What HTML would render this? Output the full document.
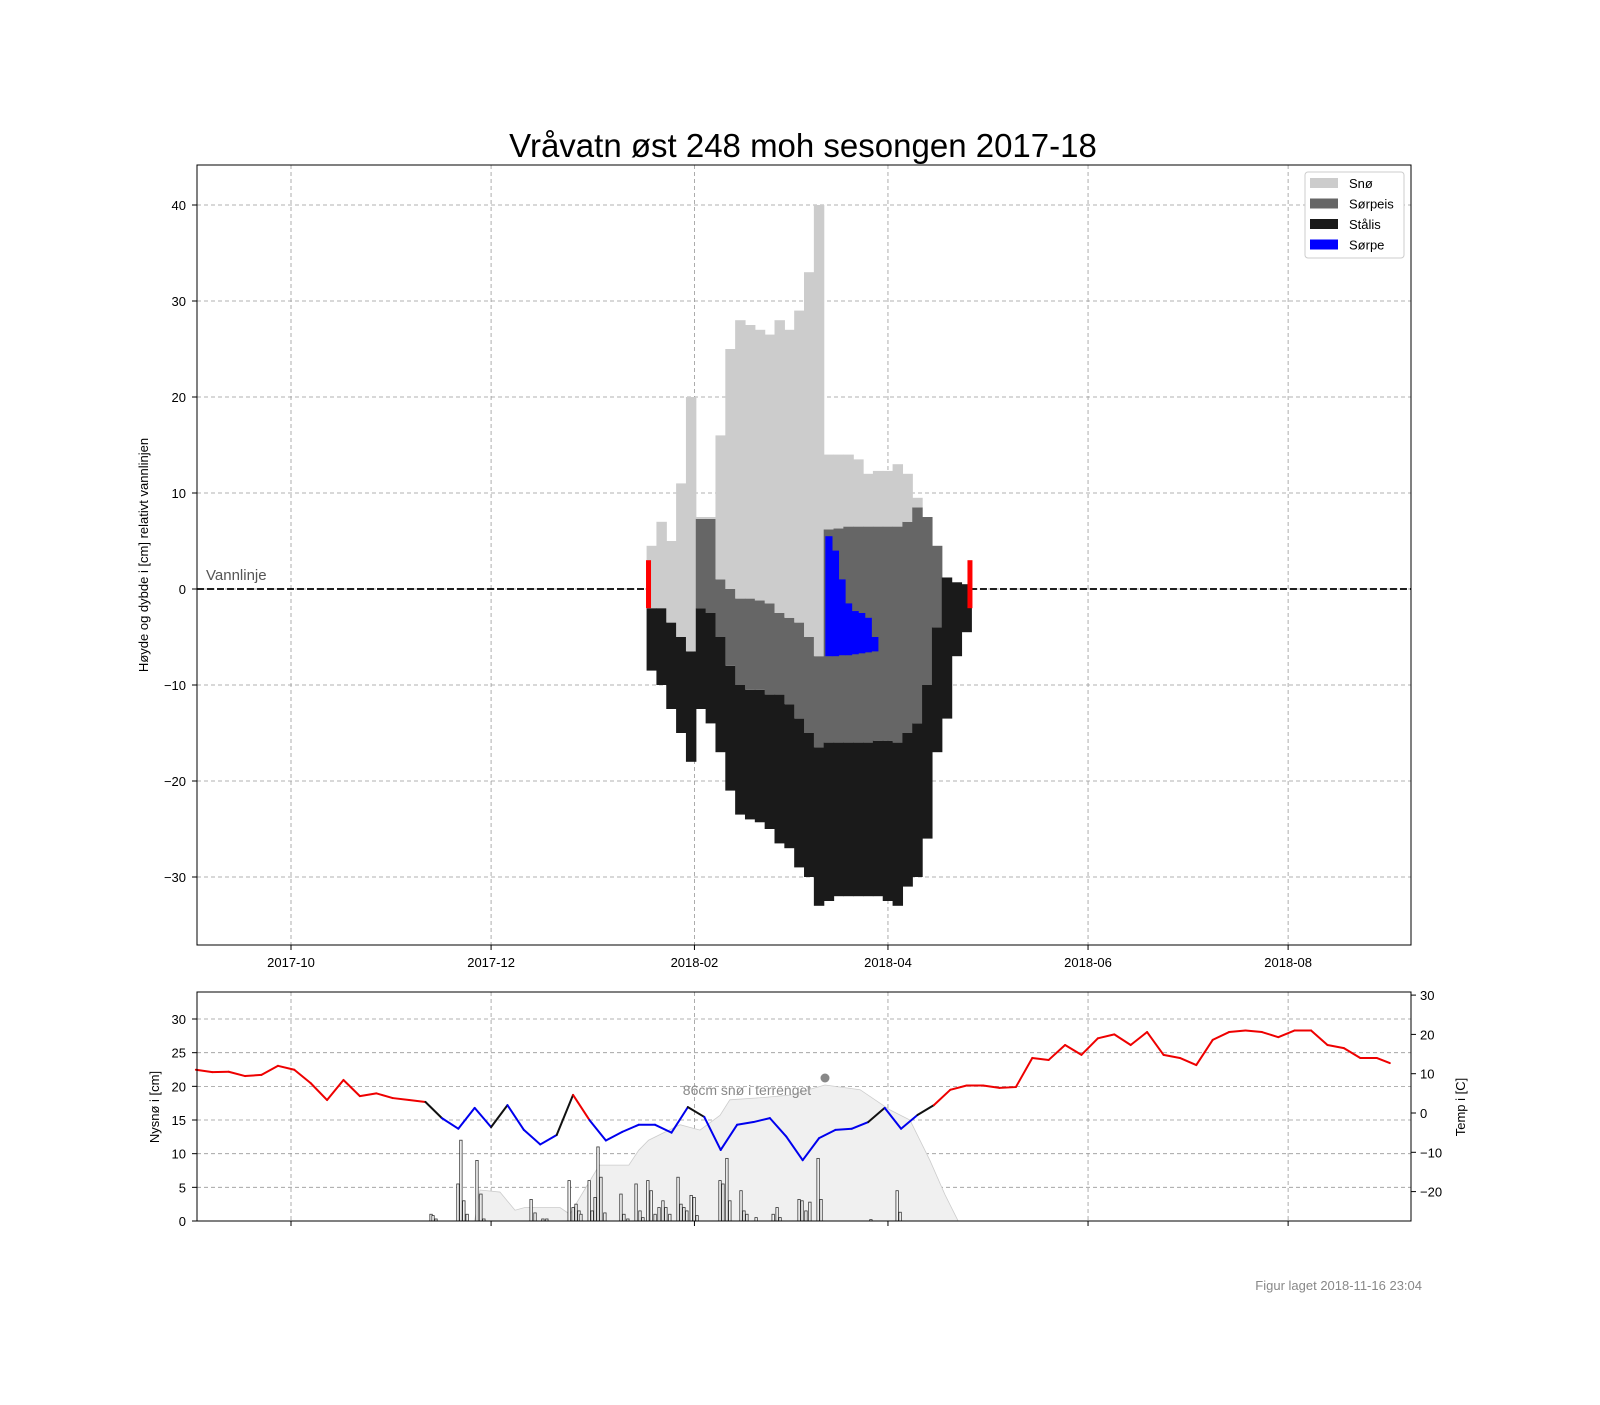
<!DOCTYPE html>
<html><head><meta charset="utf-8"><style>
body{margin:0;background:#fff}
text{font-family:"Liberation Sans","DejaVu Sans",sans-serif}
</style></head><body>
<svg id="c" width="1600" height="1400" xmlns="http://www.w3.org/2000/svg">
<rect width="1600" height="1400" fill="#fff"/>
<text x="803" y="157" font-size="33" text-anchor="middle">Vråvatn øst 248 moh sesongen 2017-18</text>
<g id="topg"></g>
<g id="botg"></g>
<text x="1422" y="1290" font-size="13" fill="#888" text-anchor="end">Figur laget 2018-11-16 23:04</text>
</svg>
<script>
// ---- data (days counted from 2017-10-01) ----
const iceDays   = [110,113,116,119,122,125,128,131,134,137,140,143,146,149,152,155,158,161,164,167,170,173,176,179,182,185,188,191,194,197,200,203,206];
const snowTop   = [4.5,7,5,11,20,7.5,7.5,16,25,28,27.5,27,26.5,28,27,29,33,40,14,14,14,13.5,12,12.3,12.3,13,12,9.5,7.5,4.5,1.2,0.7,0.5];
const sorpTop   = [-2,-2,-3.5,-5,-6.5,7.3,7.3,1,0,-1,-1,-1.2,-1.5,-2.5,-3,-3.5,-5,-7,6.2,6.3,6.5,6.5,6.5,6.5,6.5,6.5,7,8.5,7.5,4.5,1.2,0.7,0.5];
const sorpBot   = [-2,-2,-3.5,-5,-6.5,-2,-2.5,-5,-8,-10,-10.5,-10.5,-11,-11,-12,-13.5,-15,-16.5,-16,-16,-16,-16,-16,-15.8,-15.8,-16,-15,-14,-10,-4,1.2,0.7,0.5];
const iceBot    = [-8.5,-10,-12.5,-15,-18,-12.5,-14,-17,-21,-23.5,-24,-24.3,-25,-26.5,-27,-29,-30,-33,-32.5,-32,-32,-32,-32,-32,-32.5,-33,-31,-30,-26,-17,-13.5,-7,-4.5];
const slushDays = [164,166,168,170,172,174,176,178];
const slushTop  = [5.5,4,1,-1.5,-2.3,-2.5,-3,-5];
const slushBot  = [-7,-7,-6.9,-6.9,-6.8,-6.7,-6.6,-6.5];
const markerDays = [109,207];
const tempDays = [-29,-24,-19,-14,-9,-4,1,6,11,16,21,26,31,36,41,46,51,56,61,66,71,76,81,86,91,96,101,106,111,116,121,126,131,136,141,146,151,156,161,166,171,176,181,186,191,196,201,206,211,216,221,226,231,236,241,246,251,256,261,266,271,276,281,286,291,296,301,306,311,316,321,326,331,335];
const temps = [11,10.4,10.5,9.4,9.7,12,11,7.6,3.3,8.4,4.3,5,3.8,3.3,2.8,-1.3,-4,1.3,-3.6,2,-4.3,-8,-5.6,4.6,-1.8,-7,-4.8,-3,-3,-5,1.5,-1,-9.4,-3,-2.3,-1.3,-6,-12,-6.4,-4.3,-4,-2.3,1.3,-4,-0.5,2,5.9,7,7,6.4,6.6,14,13.5,17.3,14.8,19,20,17.3,20.6,14.8,14,12.2,18.6,20.6,21,20.6,19.3,21,21,17.3,16.5,14,14,12.7];
const groundDays = [56,57.6,63.7,68.3,71.3,82,85,94,103,106,109,118.6,124.7,130.8,133.8,143,152,162.8,173.5,182.6,188.7,194.8,199.4,203.4];
const groundSnow = [0,4.6,4.3,1.6,2,2,1,8.3,8.3,10.5,12,14.3,13.5,15.7,18,18.3,18.7,20.2,19.5,16.5,15,9,3.9,0];
const newDays = [42.7,43.3,44.2,50.9,51.8,52.7,53.7,56.7,57.9,58.8,73.2,74.4,76.8,78,84.8,86,86.9,87.8,88.4,90.9,91.8,92.7,93.6,94.5,95.7,100.6,101.5,102.7,105.2,106.4,107.3,108.8,109.8,111,112.2,113.4,114.3,115.5,118,118.9,119.8,120.7,122,122.9,123.8,130.8,131.7,132.9,133.8,137.2,138.1,139,141.8,147,148.2,149.1,154.9,155.8,157,158.2,160.7,161.6,176.8,184.8,185.7];
const newSnow = [1,0.8,0.3,5.5,12,3,1,9,4,0.3,3.2,1.2,0.3,0.3,6,2,2.5,1.5,1,6,1.5,3.5,11,6.5,1.2,4,1,0.3,5.5,1.5,0.5,6,4.5,1,2,3,2,1,6.5,2.5,2,1.5,3.8,3.5,0.8,6,5.5,9.3,3,4.5,1.5,1,0.5,1,2,0.5,3.2,3,1.5,2.8,9.3,3.2,0.2,4.5,1.3];
const xTickDays = [0,61,123,182,243,304];
const xTickLabels = ["2017-10","2017-12","2018-02","2018-04","2018-06","2018-08"];
const yTopTicks = [-30,-20,-10,0,10,20,30,40];
const yLeftTicks = [0,5,10,15,20,25,30];
const yRightTicks = [-20,-10,0,10,20,30];

const NS="http://www.w3.org/2000/svg";
function mk(p,t,a){const e=document.createElementNS(NS,t);for(const k in a)e.setAttribute(k,a[k]);p.appendChild(e);return e;}
const X=d=>291+3.28*d;
const L=197,R=1411;
const Yt=v=>589-9.6*v;
const Yl=v=>1221-6.733*v;
const Yr=v=>1113-3.93*v;

const gTop=document.getElementById('topg');
xTickDays.forEach(d=>{const g=mk(gTop,'line',{x1:X(d),x2:X(d),y1:165,y2:945,stroke:'#999','stroke-dasharray':'4,3','stroke-width':0.8});
});
yTopTicks.forEach(v=>{const g=mk(gTop,'line',{x1:L,x2:R,y1:Yt(v),y2:Yt(v),stroke:'#999','stroke-dasharray':'4,3','stroke-width':0.8});

const t=mk(gTop,'text',{x:186,y:Yt(v)+5,'font-size':13,'text-anchor':'end'});t.textContent=(v<0?'\u2212'+(-v):v);

mk(gTop,'line',{x1:192,x2:197,y1:Yt(v),y2:Yt(v),stroke:'#000'});});
[[L,X(markerDays[0])],[X(markerDays[1]),R]].forEach(s=>{const w=mk(gTop,'line',{x1:s[0],x2:s[1],y1:Yt(0),y2:Yt(0),stroke:'#000','stroke-dasharray':'7,3','stroke-width':1.8});
});
const vt=mk(gTop,'text',{x:206,y:580,'font-size':15,fill:'#555'});vt.textContent='Vannlinje';

const bw=3*3.28+0.6;
iceDays.forEach((d,i)=>{
 const x=X(d)-bw/2;
 const segs=[[iceBot[i],sorpBot[i],'#1a1a1a','staalis-bar'],[sorpBot[i],sorpTop[i],'#666','sorpeis-bar'],[sorpTop[i],snowTop[i],'#ccc','snow-bar']];
 segs.forEach(s=>{if(s[1]>s[0]){const r=mk(gTop,'rect',{x:x,y:Yt(s[1]),width:bw,height:Yt(s[0])-Yt(s[1]),fill:s[2]});
 }});
});
const sw=2*3.28+0.6;
slushDays.forEach((d,i)=>{const r=mk(gTop,'rect',{x:X(d)-sw/2,y:Yt(slushTop[i]),width:sw,height:Yt(slushBot[i])-Yt(slushTop[i]),fill:'#0000ff'});
});
markerDays.forEach(d=>{const r=mk(gTop,'rect',{x:X(d)-2.5,y:Yt(3),width:5,height:Yt(-2)-Yt(3),fill:'#ff0000'});
});
mk(gTop,'rect',{x:L,y:165,width:R-L,height:780,fill:'none',stroke:'#000'});
xTickDays.forEach((d,i)=>{mk(gTop,'line',{x1:X(d),x2:X(d),y1:945,y2:950,stroke:'#000'});
const t=mk(gTop,'text',{x:X(d),y:967,'font-size':13,'text-anchor':'middle'});t.textContent=xTickLabels[i];
});
const yl=mk(gTop,'text',{x:0,y:0,'font-size':13,'text-anchor':'middle',transform:'translate(148,555) rotate(-90)'});yl.textContent='Høyde og dybde i [cm] relativt vannlinjen';

const lg=mk(gTop,'g',{});
mk(lg,'rect',{x:1305,y:172,width:99,height:86,fill:'#fff',stroke:'#ccc',rx:3});
[['Snø','#ccc'],['Sørpeis','#666'],['Stålis','#1a1a1a'],['Sørpe','#0000ff']].forEach((e,i)=>{
 const g=mk(lg,'g',{});
 mk(g,'rect',{x:1310,y:178+i*20.5,width:28,height:10,fill:e[1]});
 const t=mk(g,'text',{x:1349,y:188+i*20.5,'font-size':13});t.textContent=e[0];});

const gBot=document.getElementById('botg');
xTickDays.forEach(d=>{mk(gBot,'line',{x1:X(d),x2:X(d),y1:992,y2:1221,stroke:'#999','stroke-dasharray':'4,3','stroke-width':0.8});
mk(gBot,'line',{x1:X(d),x2:X(d),y1:1221,y2:1226,stroke:'#000'});});
yLeftTicks.forEach(v=>{mk(gBot,'line',{x1:L,x2:R,y1:Yl(v),y2:Yl(v),stroke:'#999','stroke-dasharray':'4,3','stroke-width':0.8});
mk(gBot,'line',{x1:192,x2:197,y1:Yl(v),y2:Yl(v),stroke:'#000'});
const t=mk(gBot,'text',{x:186,y:Yl(v)+5,'font-size':13,'text-anchor':'end'});t.textContent=v;
});
yRightTicks.forEach(v=>{mk(gBot,'line',{x1:R,x2:R+5,y1:Yr(v),y2:Yr(v),stroke:'#000'});
const t=mk(gBot,'text',{x:R+9,y:Yr(v)+5,'font-size':13});t.textContent=(v<0?'\u2212'+(-v):v);
});
let p='M'+X(groundDays[0])+','+Yl(0);
groundDays.forEach((d,i)=>{p+=' L'+X(d)+','+Yl(groundSnow[i]);});
p+=' L'+X(groundDays[groundDays.length-1])+','+Yl(0)+'Z';
const ga=mk(gBot,'path',{d:p,fill:'#f0f0f0',stroke:'#ccc','stroke-width':0.8});

newDays.forEach((d,i)=>{const r=mk(gBot,'rect',{x:X(d)-1.2,y:Yl(newSnow[i]),width:2.4,height:Yl(0)-Yl(newSnow[i]),fill:'#fff',stroke:'#333','stroke-width':0.8});
});
for(let i=0;i<tempDays.length-1;i++){
 const m=(temps[i]+temps[i+1])/2;
 const col=m>1?'#e00':(m<-1?'#00e':'#111');
 const s=mk(gBot,'line',{x1:X(tempDays[i]),y1:Yr(temps[i]),x2:X(tempDays[i+1]),y2:Yr(temps[i+1]),stroke:col,'stroke-width':2,'stroke-linecap':'round'});
 
}
const an=mk(gBot,'text',{x:747,y:1095,'font-size':14,fill:'#888','text-anchor':'middle'});an.textContent='86cm snø i terrenget';

const dot=mk(gBot,'circle',{cx:825,cy:1078,r:4.5,fill:'#888'});
mk(gBot,'rect',{x:L,y:992,width:R-L,height:229,fill:'none',stroke:'#000'});
const l2=mk(gBot,'text',{x:0,y:0,'font-size':13,'text-anchor':'middle',transform:'translate(159,1107) rotate(-90)'});l2.textContent='Nysnø i [cm]';

const l3=mk(gBot,'text',{x:0,y:0,'font-size':13,'text-anchor':'middle',transform:'translate(1465,1107) rotate(-90)'});l3.textContent='Temp i [C]';

</script>
</body></html>
